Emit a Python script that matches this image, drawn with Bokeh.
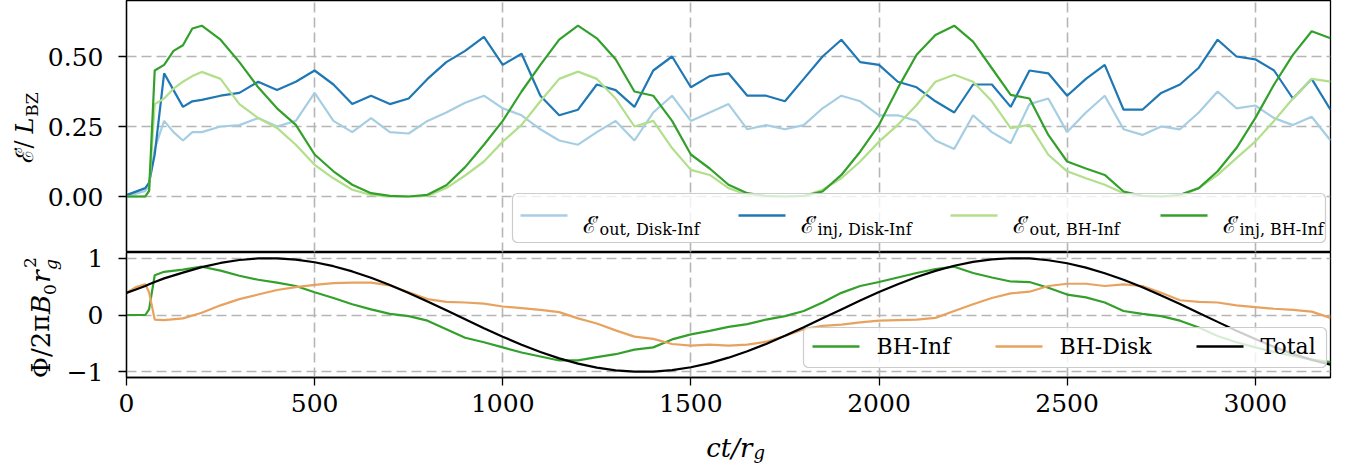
from bokeh.plotting import figure
from bokeh.layouts import column, row
from bokeh.models import (Range1d, FixedTicker, NumeralTickFormatter, CustomJSTickFormatter,
                          Label, BoxAnnotation, PolyAnnotation)
from bokeh.embed import file_html
from bokeh.resources import INLINE

# ---------------- data ----------------
x_top = [0, 50, 60, 75, 100, 125, 150, 175] + list(range(200, 3201, 50))

e_out_disk = [0.0, 0.02, 0.04, 0.17, 0.27, 0.23, 0.20, 0.23,
              0.23, 0.25, 0.255, 0.28, 0.25, 0.27, 0.37, 0.27, 0.23, 0.28,
              0.23, 0.225, 0.27, 0.30, 0.335, 0.36, 0.315, 0.29, 0.24, 0.20,
              0.185, 0.23, 0.27, 0.20, 0.30, 0.36, 0.27, 0.30, 0.33, 0.24,
              0.255, 0.24, 0.255, 0.315, 0.36, 0.34, 0.29, 0.29, 0.27, 0.20,
              0.17, 0.29, 0.23, 0.19, 0.33, 0.35, 0.23, 0.30, 0.36, 0.24,
              0.22, 0.25, 0.24, 0.30, 0.375, 0.315, 0.325, 0.28, 0.255, 0.285, 0.20]

e_inj_disk = [0.005, 0.03, 0.05, 0.15, 0.44, 0.38, 0.32, 0.34,
              0.345, 0.36, 0.37, 0.41, 0.38, 0.41, 0.45, 0.40, 0.33, 0.36,
              0.33, 0.35, 0.42, 0.48, 0.52, 0.57, 0.47, 0.51, 0.36, 0.29,
              0.31, 0.40, 0.38, 0.32, 0.45, 0.50, 0.39, 0.43, 0.44, 0.36,
              0.36, 0.34, 0.42, 0.50, 0.56, 0.48, 0.47, 0.41, 0.39, 0.34,
              0.30, 0.40, 0.40, 0.32, 0.45, 0.44, 0.36, 0.42, 0.47, 0.31,
              0.31, 0.37, 0.40, 0.46, 0.56, 0.50, 0.49, 0.45, 0.35, 0.42, 0.31]

e_out_bh = [0.0, 0.0, 0.02, 0.33, 0.35, 0.385, 0.41, 0.43,
            0.445, 0.42, 0.33, 0.28, 0.245, 0.185, 0.113, 0.065, 0.024, 0.006,
            0.0, 0.0, 0.002, 0.03, 0.075, 0.125, 0.196, 0.256, 0.34, 0.42,
            0.446, 0.42, 0.35, 0.25, 0.27, 0.173, 0.095, 0.077, 0.03, 0.006,
            0.0, 0.0, 0.002, 0.024, 0.065, 0.125, 0.196, 0.256, 0.327, 0.41,
            0.435, 0.41, 0.34, 0.244, 0.256, 0.149, 0.09, 0.065, 0.042, 0.012,
            0.002, 0.0, 0.0, 0.03, 0.077, 0.137, 0.196, 0.27, 0.35, 0.42, 0.41]

e_inj_bh = [0.0, 0.0, 0.02, 0.45, 0.47, 0.52, 0.54, 0.60,
            0.61, 0.56, 0.48, 0.39, 0.315, 0.256, 0.15, 0.09, 0.042, 0.012,
            0.002, 0.0, 0.006, 0.04, 0.105, 0.185, 0.27, 0.375, 0.47, 0.56,
            0.61, 0.565, 0.49, 0.375, 0.36, 0.27, 0.15, 0.10, 0.042, 0.012,
            0.002, 0.0, 0.002, 0.018, 0.077, 0.16, 0.256, 0.387, 0.506, 0.577,
            0.61, 0.553, 0.458, 0.363, 0.35, 0.22, 0.125, 0.10, 0.077, 0.018,
            0.002, 0.0, 0.006, 0.03, 0.09, 0.173, 0.28, 0.40, 0.506, 0.59, 0.565]

x_bot = [0, 25, 50, 60, 75] + list(range(100, 3201, 50))

phi_bh_inf = [0.0, 0.0, 0.0, 0.10, 0.70,
              0.76, 0.80, 0.85, 0.78, 0.69, 0.62, 0.57, 0.51, 0.40, 0.30,
              0.19, 0.10, 0.02, -0.02, -0.10, -0.25, -0.40, -0.48, -0.57, -0.66,
              -0.73, -0.80, -0.80, -0.74, -0.69, -0.61, -0.57, -0.43, -0.34, -0.28,
              -0.21, -0.16, -0.08, -0.02, 0.07, 0.22, 0.39, 0.51, 0.58, 0.66,
              0.74, 0.81, 0.85, 0.74, 0.66, 0.59, 0.58, 0.48, 0.36, 0.31,
              0.22, 0.07, 0.02, -0.02, -0.10, -0.22, -0.37, -0.48, -0.57, -0.65,
              -0.72, -0.78, -0.83]

phi_bh_disk = [0.39, 0.49, 0.54, 0.40, -0.08,
               -0.09, -0.06, 0.04, 0.17, 0.28, 0.36, 0.44, 0.49, 0.53, 0.56,
               0.57, 0.57, 0.52, 0.40, 0.28, 0.23, 0.22, 0.20, 0.15, 0.12,
               0.09, 0.05, -0.06, -0.15, -0.27, -0.38, -0.42, -0.51, -0.54, -0.52,
               -0.54, -0.52, -0.47, -0.37, -0.25, -0.19, -0.17, -0.13, -0.10, -0.09,
               -0.08, -0.05, 0.07, 0.19, 0.30, 0.38, 0.41, 0.51, 0.55, 0.55,
               0.51, 0.54, 0.51, 0.39, 0.26, 0.23, 0.22, 0.17, 0.14, 0.11,
               0.09, 0.06, -0.05]

phi_total = [0.39, 0.45, 0.51, 0.54, 0.58,
             0.645, 0.746, 0.842, 0.916, 0.968, 0.996, 0.998, 0.976, 0.928, 0.859,
             0.767, 0.656, 0.528, 0.389, 0.239, 0.082, -0.075, -0.232, -0.383, -0.522,
             -0.651, -0.763, -0.855, -0.926, -0.974, -0.997, -0.996, -0.970, -0.920, -0.846,
             -0.751, -0.639, -0.509, -0.367, -0.216, -0.059, 0.098, 0.254, 0.403, 0.542,
             0.668, 0.777, 0.866, 0.934, 0.979, 0.999, 0.996, 0.964, 0.911, 0.834,
             0.736, 0.621, 0.489, 0.345, 0.193, 0.036, -0.121, -0.276, -0.423, -0.561,
             -0.684, -0.790, -0.874]

x_ticks = [0, 500, 1000, 1500, 2000, 2500, 3000]
top_ticks = [0.0, 0.25, 0.5]
bot_ticks = [-1, 0, 1]

top_names = ["out, Disk-Inf", "inj, Disk-Inf", "out, BH-Inf", "inj, BH-Inf"]
top_colors = ["#a6cee3", "#1f78b4", "#b2df8a", "#33a02c"]
bot_names = ["BH-Inf", "BH-Disk", "Total"]
bot_colors = ["#33a02c", "#e8a25f", "black"]

FONT = "DejaVu Serif"
xr = Range1d(0, 3200)
A = 1.5708  # 90 degrees
OV = 12     # overlap of the lower row into the upper one (room for the "1" label)


def style(p, yticks):
    p.outline_line_color = "black"
    p.outline_line_width = 1.3
    p.xgrid.ticker = FixedTicker(ticks=x_ticks)
    p.ygrid.ticker = FixedTicker(ticks=yticks)
    p.grid.grid_line_color = "#b5b5b5"
    p.grid.grid_line_width = 1.6
    p.grid.grid_line_dash = "10 5"
    p.yaxis.ticker = FixedTicker(ticks=yticks)
    for ax in p.axis:
        ax.axis_line_color = "black"
        ax.axis_line_width = 1.3
        ax.major_tick_line_width = 1.3
        ax.major_tick_out = 8
        ax.major_tick_in = 0
        ax.minor_tick_line_color = None
        ax.major_label_text_font = FONT
        ax.major_label_text_font_size = "25px"
        ax.major_label_text_color = "black"
    p.yaxis.major_label_standoff = 15


def lab(p, sx, sy, text, size, fstyle="normal", angle=0.0, align="left", baseline="alphabetic"):
    p.add_layout(Label(x=sx, y=sy, x_units="screen", y_units="screen", text=text,
                       text_font=FONT, text_font_size=f"{size}px", text_font_style=fstyle,
                       angle=angle, text_align=align, text_baseline=baseline,
                       text_color="black"))


def vlab(p, sx, sy, text, size, fstyle="normal"):
    lab(p, sx, sy, text, size, fstyle=fstyle, angle=A, align="center", baseline="middle")


def seg(p, x0, x1, y, color):
    p.add_layout(PolyAnnotation(xs=[x0, x1], ys=[y, y], xs_units="screen", ys_units="screen",
                                line_color=color, line_alpha=1.0, line_width=2.5,
                                fill_alpha=0))


def box(p, l, r, t, b):
    p.add_layout(BoxAnnotation(left=l, right=r, top=t, bottom=b,
                               left_units="screen", right_units="screen",
                               top_units="screen", bottom_units="screen",
                               fill_color="white", fill_alpha=0.8,
                               line_color="#cccccc", line_alpha=1.0, line_width=1.2,
                               border_radius=5))


def blank(w, h):
    f = figure(width=w, height=h, x_range=Range1d(0, w), y_range=Range1d(0, h),
               x_axis_type=None, y_axis_type=None, toolbar_location=None,
               output_backend="svg", min_border=0, outline_line_color=None)
    f.grid.visible = False
    f.border_fill_alpha = 0
    f.background_fill_alpha = 0
    return f


# ---------------- top panel ----------------
L1 = 42
p1 = figure(width=1355 - L1, height=252, x_range=xr, y_range=Range1d(-0.2, 0.7),
            output_backend="svg", toolbar_location=None,
            min_border_left=126 - L1, min_border_right=25, min_border_top=0, min_border_bottom=0)
p1.xaxis.visible = False
style(p1, top_ticks)
p1.yaxis.formatter = NumeralTickFormatter(format="0.00")

for ys, c in zip([e_out_disk, e_inj_disk, e_out_bh, e_inj_bh], top_colors):
    p1.line(x_top, ys, line_color=c, line_width=2.2)

box(p1, 386, 1199, 59, 10)
for i, (name, c) in enumerate(zip(top_names, top_colors)):
    x0 = [394, 612, 824, 1034][i]
    seg(p1, x0, x0 + 47, 37, c)
    lab(p1, x0 + 62, 28, "\u2130\u0307", 23)
    lab(p1, x0 + 79, 23, name, 16)

ly1 = blank(L1, 252)
vlab(ly1, 24, 252 - 151, "\u2130\u0307/", 24)
vlab(ly1, 24, 252 - 125, "L", 24, fstyle="italic")
vlab(ly1, 31, 252 - 104, "BZ", 17)

# ---------------- bottom panel ----------------
L2 = 62
H2 = 175 + OV
p2 = figure(width=1355 - L2, height=H2, x_range=xr, y_range=Range1d(-1.1, 1.1),
            output_backend="svg", toolbar_location=None,
            min_border_left=126 - L2, min_border_right=25, min_border_top=OV, min_border_bottom=50)
p2.border_fill_alpha = 0
style(p2, bot_ticks)
p2.xaxis.ticker = FixedTicker(ticks=x_ticks)
p2.xaxis.major_label_standoff = 8
p2.yaxis.formatter = CustomJSTickFormatter(
    code="return tick < 0 ? '\\u2212' + Math.abs(tick) : String(tick);")

for ys, c in zip([phi_bh_inf, phi_bh_disk, phi_total], bot_colors):
    p2.line(x_bot, ys, line_color=c, line_width=2.2)

box(p2, 677, 1200, 50, 10)
for i, (name, c) in enumerate(zip(bot_names, bot_colors)):
    x0 = [686, 869, 1070][i]
    seg(p2, x0, x0 + 47, 31, c)
    lab(p2, x0 + 64, 31, name, 22, baseline="middle")

ly2 = blank(L2, H2)
fb = 377
vlab(ly2, 40, fb - 346, "\u03a6/2\u03c0", 26)
vlab(ly2, 40, fb - 304, "B", 26, fstyle="italic")
vlab(ly2, 49, fb - 289, "0", 17)
vlab(ly2, 40, fb - 276, "r", 26, fstyle="italic")
vlab(ly2, 50, fb - 264, "g", 17, fstyle="italic")
vlab(ly2, 29, fb - 262, "2", 17)

# x label: ct / r_g
H3 = 467 - 252 - 175
lx = blank(1355, H3)
lab(lx, 752, H3 - 20, "ct/r", 26, fstyle="italic", align="right")
lab(lx, 753, H3 - 25, "g", 18, fstyle="italic")

row2 = row(ly2, p2)
row2.margin = (-OV, 0, 0, 0)
layout = column(row(ly1, p1), row2, lx)
open("out.html", "w").write(file_html(layout, INLINE))
